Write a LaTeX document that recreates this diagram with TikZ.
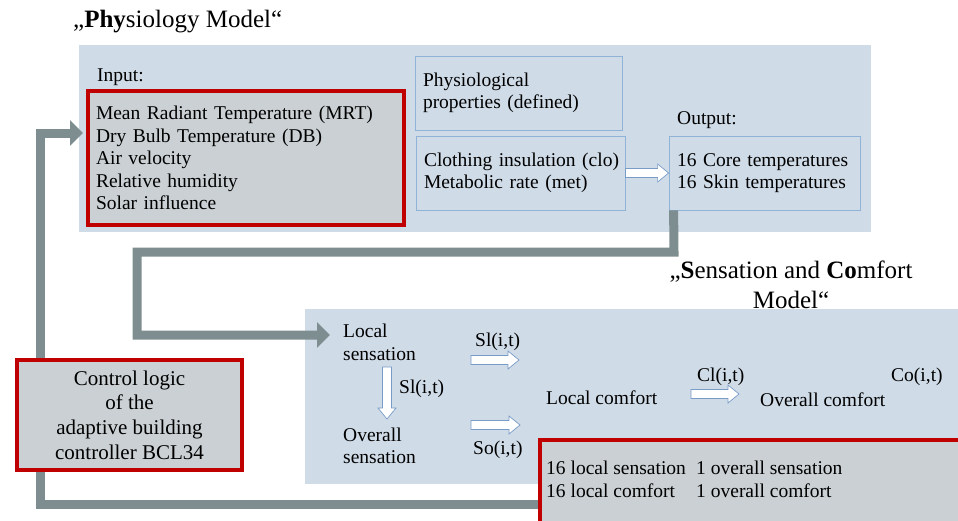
\documentclass[tikz,border=0pt]{standalone}
\usepackage{fontspec}
\setmainfont{Liberation Serif}
\usetikzlibrary{arrows.meta,calc}
\definecolor{panelblue}{RGB}{207,219,231}
\definecolor{boxgray}{RGB}{202,208,211}
\definecolor{redb}{RGB}{192,0,0}
\definecolor{conngray}{RGB}{126,141,143}
\definecolor{boxline}{RGB}{143,178,214}
\definecolor{arrline}{RGB}{120,155,200}
\newcommand\bodyfont{\fontsize{19.5}{22.4}\selectfont}
\newcommand\harrow[2]{\draw[warrow] let \p1=(#1), \p2=(#2) in (\x1,\y1+4.5pt) -- (\x2-11pt,\y1+4.5pt) -- (\x2-11pt,\y1+9pt) -- (\x2,\y1) -- (\x2-11pt,\y1-9pt) -- (\x2-11pt,\y1-4.5pt) -- (\x1,\y1-4.5pt) -- cycle;}
\newcommand\varrow[2]{\draw[warrow] let \p1=(#1), \p2=(#2) in (\x1-4.5pt,\y1) -- (\x1-4.5pt,\y2+11pt) -- (\x1-9pt,\y2+11pt) -- (\x1,\y2) -- (\x1+9pt,\y2+11pt) -- (\x1+4.5pt,\y2+11pt) -- (\x1+4.5pt,\y1) -- cycle;}
\begin{document}
\begin{tikzpicture}[x=1pt,y=-1pt,
 panel/.style={fill=panelblue, draw=none, inner sep=0pt, anchor=north west},
 redbox/.style={draw=redb, line width=4pt, fill=boxgray, inner sep=0pt},
 bluebox/.style={draw=boxline, line width=0.8pt, fill=panelblue, inner xsep=8pt, inner ysep=0pt, align=left, font=\bodyfont},
 txt/.style={font=\bodyfont, align=left, inner sep=0pt, anchor=west},
 ttl/.style={font=\fontsize{25}{30}\selectfont, inner sep=0pt},
 grayconn/.style={draw=conngray, line width=9pt, line join=miter},
 gtip/.style={-{Triangle[length=13pt,width=25pt]}},
 warrow/.style={draw=arrline, fill=white, line width=0.7pt, line join=miter},
]
\useasboundingbox (0,0) rectangle (958,520);
% panels
\node[panel, minimum width=792, minimum height=187] (phypanel) at (79,45) {};
\node[panel, minimum width=660, minimum height=175] (scpanel) at (305,309) {};
% titles
\node[ttl, anchor=west] (phytitle) at (73,22) {„\textbf{Phy}siology Model“};
\node[ttl, align=center] (sctitle) at (791,285) {„\textbf{S}ensation and \textbf{Co}mfort\\Model“};
% physiology model
\node[txt] (inlabel) at (97,77) {Input:};
\node[bluebox, minimum width=207, minimum height=74, text width=191] (physprop) at (518.5,93) {Physiological\\properties (defined)};
\node[bluebox, minimum width=209, minimum height=74, text width=193] (cloth) at (520.5,173) {\mbox{Clothing insulation (clo)}\\\mbox{Metabolic rate (met)}};
\node[txt] (outlabel) at (677,120) {Output:};
\node[bluebox, minimum width=191, minimum height=74, text width=175] (outbox) at (764.5,173) {\mbox{16 Core temperatures}\\\mbox{16 Skin temperatures}};
\harrow{cloth.east}{outbox.west}
% gray connectors
\coordinate (g1a) at (674,252);
\coordinate (g1b) at (137,335);
\coordinate (g1tip) at (330,335);
\draw[grayconn,gtip] ([xshift=5pt]outbox.south west) -- (g1a) -| (g1b) -- (g1tip);
\coordinate (g2a) at (540,504);
\coordinate (g2b) at (40,133);
\coordinate (g2tip) at (83,133);
\draw[grayconn,gtip] (g2a) -| (g2b) -- (g2tip);
% red boxes
\node[redbox, minimum width=316, minimum height=134, text width=300, align=left, font=\bodyfont] (inbox) at (246,158) {Mean Radiant Temperature (MRT)\\Dry Bulb Temperature (DB)\\Air velocity\\Relative humidity\\Solar influence};
\node[redbox, minimum width=225, minimum height=110, align=center, font=\fontsize{21}{24.7}\selectfont] (ctrl) at (129.5,415) {Control logic\\of the\\adaptive building\\controller BCL34};
\node[redbox, minimum width=430, minimum height=90, anchor=north west] (outbot) at (538,438) {};
\node[txt] (outtext) at (546,479.5) {\makebox[150pt][l]{16 local sensation}1 overall sensation\\\makebox[150pt][l]{16 local comfort}1 overall comfort};
% sensation and comfort model
\node[txt] (locsens) at (343,342.5) {Local\\sensation};
\node[txt] (ovsens) at (343,446) {Overall\\sensation};
\node[txt] (sl1) at (475,342) {Sl(i,t)};
\node[txt] (sl2) at (399,389) {Sl(i,t)};
\node[txt] (so) at (473,450) {So(i,t)};
\node[txt] (loccomf) at (546,398) {Local comfort};
\node[txt] (cl) at (697,377) {Cl(i,t)};
\node[txt] (ovcomf) at (760,400) {Overall comfort};
\node[txt] (co) at (891,377) {Co(i,t)};
\coordinate (wa1s) at (471,360); \coordinate (wa1e) at (519,360);
\coordinate (wa2s) at (471,425); \coordinate (wa2e) at (520,425);
\coordinate (wa3s) at (691,394); \coordinate (wa3e) at (739,394);
\coordinate (wv1s) at (387,367); \coordinate (wv1e) at (387,419);
\harrow{wa1s}{wa1e}
\harrow{wa2s}{wa2e}
\harrow{wa3s}{wa3e}
\varrow{wv1s}{wv1e}
\end{tikzpicture}
\end{document}
